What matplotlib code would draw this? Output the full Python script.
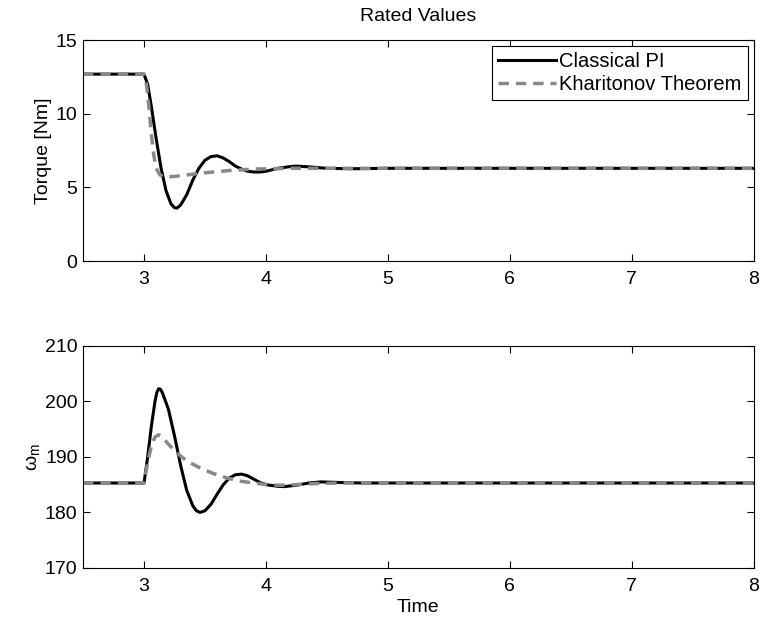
import numpy as np
import matplotlib.pyplot as plt

plt.rcParams['font.family'] = ['Liberation Sans', 'DejaVu Sans']
plt.rcParams['font.size'] = 14
plt.rcParams['mathtext.default'] = 'regular'

# torque, classical PI
t_pi = [2.5, 3.0, 3.03, 3.06, 3.1, 3.14, 3.18, 3.22, 3.25, 3.27, 3.3, 3.35, 3.4, 3.45,
        3.5, 3.55, 3.6, 3.65, 3.7, 3.75, 3.8, 3.85, 3.9, 3.95, 4.0, 4.1, 4.2, 4.25,
        4.35, 4.5, 4.7, 5.0, 8.0]
T_pi = [12.7, 12.7, 12.0, 10.5, 8.3, 6.3, 4.8, 3.9, 3.62, 3.6, 3.8, 4.5, 5.5, 6.3,
        6.85, 7.1, 7.15, 7.0, 6.75, 6.45, 6.25, 6.1, 6.05, 6.05, 6.1, 6.3, 6.42, 6.45,
        6.4, 6.3, 6.27, 6.3, 6.3]

# torque, Kharitonov
t_kh = [2.5, 3.0, 3.02, 3.04, 3.06, 3.08, 3.1, 3.13, 3.17, 3.25, 3.35, 3.5, 3.7, 3.9,
        4.2, 8.0]
T_kh = [12.7, 12.7, 12.0, 10.5, 8.6, 7.2, 6.3, 5.85, 5.7, 5.75, 5.85, 6.0, 6.15, 6.25,
        6.3, 6.3]

# speed, classical PI
w_t_pi = [2.5, 3.0, 3.03, 3.06, 3.09, 3.105, 3.12, 3.135, 3.15, 3.2, 3.25, 3.3, 3.35,
          3.4, 3.43, 3.46, 3.5, 3.55, 3.6, 3.65, 3.7, 3.75, 3.8, 3.85, 3.9, 3.95, 4.0,
          4.1, 4.15, 4.25, 4.35, 4.45, 4.6, 4.8, 8.0]
w_pi = [185.3, 185.3, 190, 195.5, 200, 201.6, 202.3, 202.2, 201.6, 198.6, 193.8, 188.5,
        184, 181.2, 180.3, 180.0, 180.3, 181.5, 183.3, 185, 186.2, 186.8, 186.9, 186.6,
        186, 185.4, 185, 184.7, 184.65, 184.9, 185.3, 185.5, 185.4, 185.3, 185.3]

# speed, Kharitonov
w_t_kh = [2.5, 3.0, 3.03, 3.06, 3.09, 3.12, 3.15, 3.2, 3.27, 3.35, 3.46, 3.57, 3.68,
          3.8, 3.9, 4.0, 4.1, 4.2, 4.4, 4.6, 8.0]
w_kh = [185.3, 185.3, 189, 192, 193.6, 194.0, 193.6, 192.3, 190.7, 189.3, 188.0, 187,
        186.2, 185.6, 185.3, 185.05, 184.9, 184.95, 185.2, 185.3, 185.3]

fig = plt.figure(figsize=(7.62, 6.2), dpi=100)
ax1 = fig.add_axes([0.109, 0.579, 0.88, 0.356])
ax2 = fig.add_axes([0.109, 0.084, 0.88, 0.358])

ax1.plot(t_pi, T_pi, color='black', lw=2.2, label='Classical PI')
ax1.plot(t_kh, T_kh, color='#888888', lw=2.5, ls=(0, (3, 2)), label='Kharitonov Theorem')
ax1.set_xlim(2.5, 8)
ax1.set_ylim(0, 15)
ax1.set_yticks([0, 5, 10, 15])
ax1.set_ylabel('Torque [Nm]', labelpad=3)
ax1.set_title('Rated Values', fontsize=14, pad=14)
leg = ax1.legend(loc='upper right', fancybox=False, framealpha=1, edgecolor='black',
                 fontsize=14.5, borderaxespad=0.3, handlelength=2.9, handletextpad=0.15,
                 borderpad=0.3, labelspacing=0.2)
leg.get_frame().set_linewidth(0.8)

ax2.plot(w_t_pi, w_pi, color='black', lw=2.2)
ax2.plot(w_t_kh, w_kh, color='#888888', lw=2.5, ls=(0, (3, 2)))
ax2.set_xlim(2.5, 8)
ax2.set_ylim(170, 210)
ax2.set_yticks([170, 180, 190, 200, 210])
ax2.set_ylabel(r'$\omega_m$', labelpad=2)
ax2.set_xlabel('Time', labelpad=3)

for ax in (ax1, ax2):
    ax.set_xticks([3, 4, 5, 6, 7, 8])
    ax.tick_params(direction='in', top=True, right=True, length=5, labelsize=14)
    ax.tick_params(axis='x', pad=7)
    ax.tick_params(axis='y', pad=4)
    for s in ax.spines.values():
        s.set_linewidth(0.8)

plt.savefig('out.png', dpi=100)
